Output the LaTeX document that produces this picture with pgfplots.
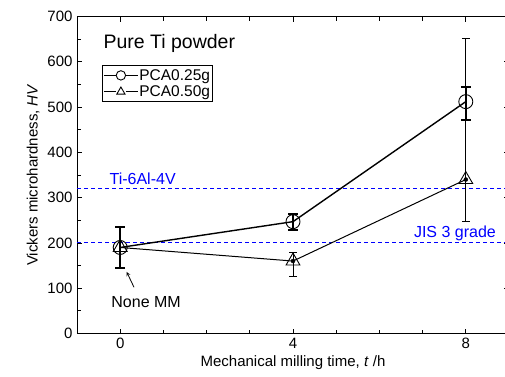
\documentclass[border=0pt]{standalone}
\usepackage{pgfplots}
\pgfplotsset{compat=1.18}
\usepackage{fontspec}
\setmainfont{Liberation Sans}
\begin{document}
\begin{tikzpicture}[x=1pt,y=1pt]
\useasboundingbox (-77,-42.5) rectangle (428,333.5);
\begin{axis}[
  scale only axis, width=432pt, height=317pt,
  at={(0,0)}, anchor=south west,
  xmin=-1, xmax=9, ymin=0, ymax=700,
  xtick={0,4,8}, minor xtick={1,2,3,5,6,7},
  ytick={0,100,...,700}, minor ytick={50,150,...,650},
  tick align=inside, tick pos=both,
  major tick length=5pt, minor tick length=4pt,
  every tick/.style={black, line width=0.8pt},
  axis line style={line width=0.9pt},
  /pgf/number format/assume math mode=true,
  ticklabel style={font=\fontsize{15}{16}\selectfont},
  xticklabel style={yshift=-1pt},
  yticklabel style={xshift=-1pt},
  xlabel={Mechanical milling time, \textit{t} /h},
  ylabel={Vickers microhardness, \textit{HV}},
  label style={font=\fontsize{15}{16}\selectfont},
  xlabel style={yshift=0pt},
  ylabel style={yshift=1pt},
  legend style={at={(0.058,0.846)}, anchor=north west, draw=black, line width=0.8pt,
    font=\fontsize{15.5}{16}\selectfont, inner xsep=1pt, inner ysep=1.5pt, row sep=0pt,
    legend cell align=left,
    nodes={inner xsep=1pt}},
  legend image code/.code={
    \draw[line width=0.9pt] (0pt,0pt) -- (12pt,0pt);
    \draw[line width=0.9pt] (22pt,0pt) -- (34pt,0pt);
    \draw[mark size=4.7pt, line width=0.7pt] plot coordinates {(17pt,0pt)};
  },
  clip=false,
]
% reference lines
\addplot[blue, line width=0.9pt, dash pattern=on 4pt off 3pt, forget plot] coordinates {(-1,320) (9,320)};
\addplot[blue, line width=0.9pt, dash pattern=on 4pt off 3pt, forget plot] coordinates {(-1,200) (9,200)};
% PCA0.25g
\addplot[black, line width=1.4pt, mark=o, mark size=7pt,
  mark options={line width=0.9pt, fill=white},
  error bars/.cd, y dir=both, y explicit,
  error bar style={line width=2pt},
  error mark options={rotate=90, mark size=5pt, line width=2pt}]
  coordinates {
  (0,190) +- (0,45)
  (4,247) += (0,17) -= (0,18)
  (8,512) += (0,33) -= (0,41)
  };
\addlegendentry{PCA0.25g}
% PCA0.50g
\addplot[black, line width=1pt, mark=triangle, mark size=8pt,
  mark options={line width=0.9pt, fill=white}]
  coordinates {
  (0,190)
  (4,160)
  (8,340)
  };
\addlegendentry{PCA0.50g}
\addplot[black, only marks, mark=none, forget plot,
  error bars/.cd, y dir=both, y explicit,
  error bar style={line width=0.8pt},
  error mark options={rotate=90, mark size=4pt, line width=0.8pt}]
  coordinates {
  (4,160) += (0,20) -= (0,33)
  (8,340) += (0,312) -= (0,93)
  };
\node[anchor=west, inner sep=0pt, font=\fontsize{19.5}{20}\selectfont] at (axis cs:-0.39,640) {Pure Ti powder};
\node[anchor=west, inner sep=0pt, blue, font=\fontsize{16}{17}\selectfont] at (axis cs:-0.25,342) {Ti-6Al-4V};
\node[anchor=east, inner sep=0pt, blue, font=\fontsize{16}{17}\selectfont] at (axis cs:8.7,221) {JIS 3 grade};
\node[font=\fontsize{16}{17}\selectfont] at (axis cs:0.6,70) {None MM};
\draw[-stealth, line width=0.8pt] (axis cs:0.32,102) -- (axis cs:0.15,136);
\end{axis}
\end{tikzpicture}
\end{document}
